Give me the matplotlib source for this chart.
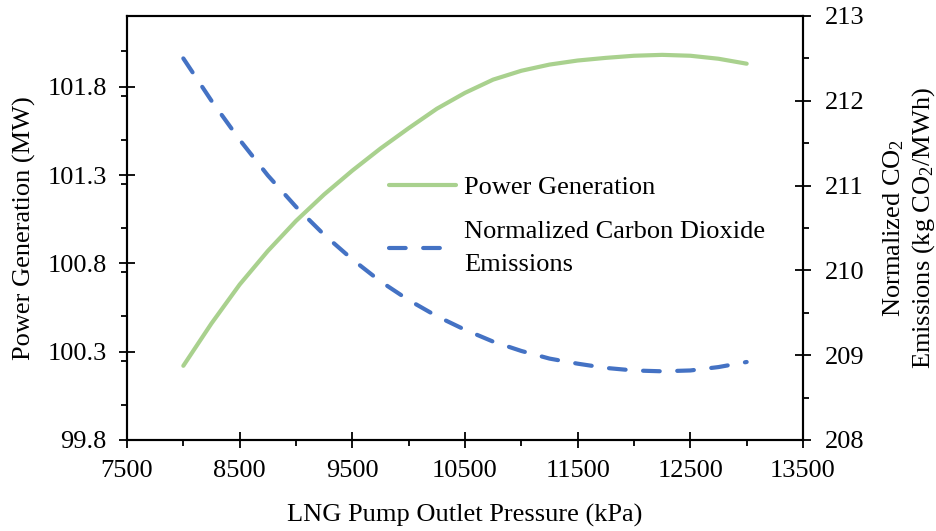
import matplotlib
matplotlib.use("Agg")
import matplotlib.pyplot as plt
from matplotlib.ticker import MultipleLocator

plt.rcParams['font.family'] = ['Liberation Serif', 'DejaVu Serif']
plt.rcParams['mathtext.fontset'] = 'custom'
plt.rcParams['mathtext.rm'] = 'Liberation Serif'
plt.rcParams['mathtext.default'] = 'regular'

pressure = [8000, 8250, 8500, 8750, 9000, 9250, 9500, 9750, 10000, 10250, 10500,
            10750, 11000, 11250, 11500, 11750, 12000, 12250, 12500, 12750, 13000]
power = [100.22, 100.46, 100.68, 100.87, 101.04, 101.19, 101.325, 101.45, 101.565, 101.675, 101.765,
         101.84, 101.89, 101.925, 101.948, 101.963, 101.975, 101.98, 101.975, 101.958, 101.93]
co2 = [212.50, 212.00, 211.54, 211.12, 210.75, 210.42, 210.13, 209.87, 209.65, 209.46, 209.30,
       209.16, 209.05, 208.96, 208.90, 208.85, 208.82, 208.81, 208.82, 208.86, 208.92]

x_ticks = [7500, 8500, 9500, 10500, 11500, 12500, 13500]
left_ticks = [99.8, 100.3, 100.8, 101.3, 101.8]
right_ticks = [208, 209, 210, 211, 212, 213]

green = '#A9D18E'
blue = '#4472C4'
FS = 19

fig = plt.figure(figsize=(9.37, 5.31), dpi=100)
ax = fig.add_axes([127/937, 1-440/531, (803-127)/937, (440-16)/531])
ax2 = ax.twinx()

l1, = ax.plot(pressure, power, color=green, lw=3, solid_capstyle='round',
              solid_joinstyle='round', label='Power Generation')
l2, = ax2.plot(pressure, co2, color=blue, lw=3, dashes=(4, 4.2), dash_capstyle='round',
               dash_joinstyle='round', label='Normalized Carbon Dioxide\nEmissions')

ax.set_xlim(7500, 13500)
ax.set_ylim(99.8, 102.2)
ax2.set_ylim(208, 213)
ax.set_xticks(x_ticks)
ax.set_yticks(left_ticks)
ax2.set_yticks(right_ticks)
ax.xaxis.set_minor_locator(MultipleLocator(500))
ax.yaxis.set_minor_locator(MultipleLocator(0.25))
ax2.yaxis.set_minor_locator(MultipleLocator(0.5))
ax.set_yticklabels([f'{v:.1f}' for v in left_ticks])

for a in (ax, ax2):
    for s in a.spines.values():
        s.set_linewidth(1.5)
ax.tick_params(which='major', direction='inout', length=11, width=1.3, labelsize=FS, pad=9)
ax.tick_params(which='minor', direction='out', length=4.5, width=1.3)
ax.tick_params(axis='x', which='major', pad=9)
ax.tick_params(top=False, right=False, which='both')
ax2.tick_params(which='major', direction='inout', length=11, width=1.3, labelsize=FS, pad=10)
ax2.tick_params(which='minor', direction='out', length=4.5, width=1.3)

ax.set_xlabel('LNG Pump Outlet Pressure (kPa)', fontsize=FS, labelpad=16)
ax.set_ylabel('Power Generation (MW)', fontsize=FS, labelpad=8)
ax2.set_ylabel('Normalized CO$_2$\nEmissions (kg CO$_2$/MWh)', fontsize=FS, labelpad=12,
               linespacing=1.25)

leg = ax.legend([l1, l2], [l1.get_label(), l2.get_label()], loc='upper left',
                bbox_to_anchor=(0.352, 0.68), frameon=False, fontsize=FS,
                handlelength=2.55, handletextpad=0.3, labelspacing=0.85)
for t in leg.get_texts():
    t.set_linespacing(1.6)

fig.savefig('out.png', dpi=100)
